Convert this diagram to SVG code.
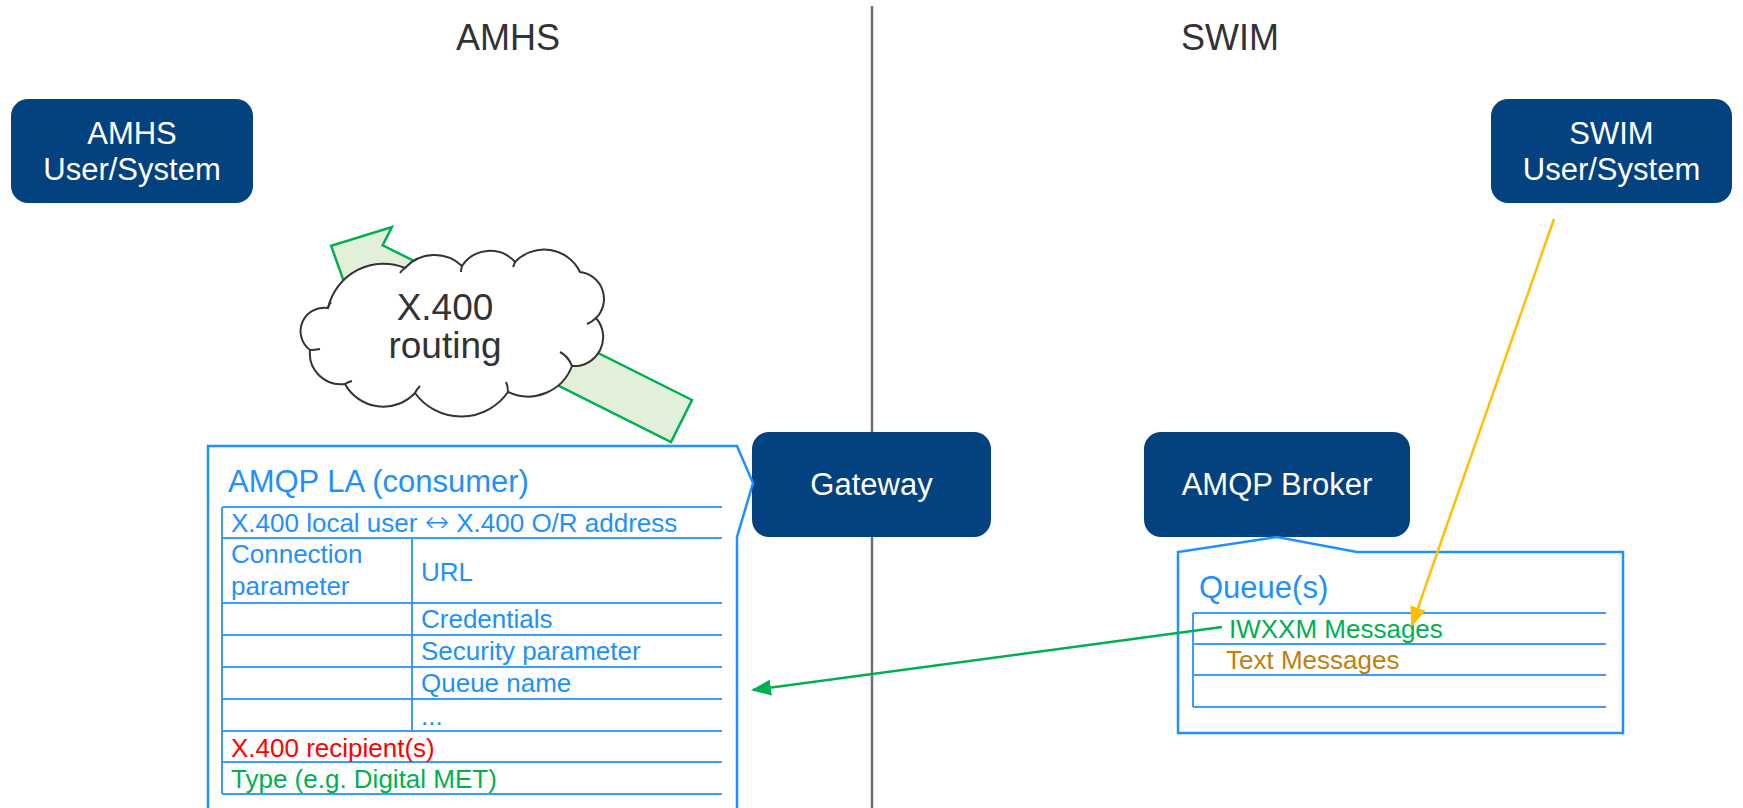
<svg xmlns="http://www.w3.org/2000/svg" width="1743" height="808" viewBox="0 0 1743 808">
<defs>
<style>
.node rect{fill:#03427F;}
.node text{fill:#FFFFFF;font-family:"Liberation Sans",Arial,sans-serif;font-size:31px;text-anchor:middle;}
.title{fill:#333333;font-family:"Liberation Sans",Arial,sans-serif;font-size:36px;text-anchor:middle;}
.blue{fill:#1E90FF;}
.t{font-family:"Liberation Sans",Arial,sans-serif;font-size:26px;}
.big{font-family:"Liberation Sans",Arial,sans-serif;font-size:31px;}
.box{fill:none;stroke:#1E90FF;stroke-width:2.5;}
.grid{fill:none;stroke:#3B9BFF;stroke-width:2;}
</style>
<marker id="ahOrange" markerUnits="userSpaceOnUse" viewBox="0 0 20 16" markerWidth="20" markerHeight="16" refX="18" refY="8" orient="auto">
<path d="M0,0 L20,8 L0,16 z" fill="#FFC000"/>
</marker>
<marker id="ahGreen" markerUnits="userSpaceOnUse" viewBox="0 0 20 16" markerWidth="20" markerHeight="16" refX="18" refY="8" orient="auto">
<path d="M0,0 L20,8 L0,16 z" fill="#00B050"/>
</marker>
</defs>
<rect width="1743" height="808" fill="#FFFFFF"/>

<g id="divider">
<line x1="872" y1="6" x2="872" y2="808" stroke="#707070" stroke-width="2.5"/>
</g>
<g id="titles">
<text class="title" x="508" y="50">AMHS</text>
<text class="title" x="1230" y="50">SWIM</text>
</g>

<g id="routing-arrow">
<polygon points="692,400 382.7,245.3 391.9,227 331.1,245.8 352.5,305.6 361.7,287.3 671,442" fill="#E2F0D9" stroke="#00B050" stroke-width="2.5" stroke-linejoin="miter"/>
</g>

<g id="cloud">
<path d="M328,308 A57,57 0 0 1 405,268 A40,40 0 0 1 462,266 A33.5,33.5 0 0 1 515,262 A40,40 0 0 1 580,272 A27,27 0 0 1 596,318 A29,29 0 0 1 572,366 A47,47 0 0 1 508,392 A57,57 0 0 1 415,393 A43.6,43.6 0 0 1 345,384 A31,31 0 0 1 310,350 A23.5,23.5 0 0 1 328,308 Z" fill="#FFFFFF" stroke="#333333" stroke-width="2"/>
<path d="M328,308 q1,-4 3,-6 M405,268 q-3,2 -5,5 M462,266 q-1,3 -1,6 M515,262 q-1,3 -2,5 M596,318 q-4,4 -9,6 M572,366 q-4,-10 -12,-14 M508,392 q0,-6 -2,-10 M415,393 q2,-4 5,-7 M345,384 q3,-2 7,-3 M310,350 q5,0 10,-1" fill="none" stroke="#333333" stroke-width="2"/>
<text x="445" y="320" fill="#333333" font-family="Liberation Sans, Arial, sans-serif" font-size="37" text-anchor="middle">X.400</text>
<text x="445" y="358" fill="#333333" font-family="Liberation Sans, Arial, sans-serif" font-size="37" text-anchor="middle">routing</text>
</g>

<g id="amhs-user" class="node">
<rect x="11" y="99" width="242" height="104" rx="17"/>
<text x="132" y="144">AMHS</text>
<text x="132" y="180">User/System</text>
</g>
<g id="swim-user" class="node">
<rect x="1491" y="99" width="241" height="104" rx="17"/>
<text x="1611.5" y="144">SWIM</text>
<text x="1611.5" y="180">User/System</text>
</g>
<g id="gateway" class="node">
<rect x="752" y="432" width="239" height="105" rx="17"/>
<text x="871.5" y="495">Gateway</text>
</g>
<g id="amqp-broker" class="node">
<rect x="1144" y="432" width="266" height="105" rx="17"/>
<text x="1277" y="495">AMQP Broker</text>
</g>

<g id="amqp-la">
<path class="box" d="M208,810 V446 H737 L753,483 L737,537 V810"/>
<text class="big blue" x="228" y="492">AMQP LA (consumer)</text>
<path class="grid" d="M222,507 H722 M222,538 H722 M222,603 H722 M222,635 H722 M222,667 H722 M222,699 H722 M222,731 H722 M222,762 H722 M222,794 H722 M222,507 V794 M412,538 V731"/>
<g class="t">
<text class="blue" x="231" y="532">X.400 local user <tspan font-family="DejaVu Sans, sans-serif" font-size="29" font-weight="300">↔</tspan> X.400 O/R address</text>
<text class="blue" x="231" y="563">Connection</text>
<text class="blue" x="231" y="595">parameter</text>
<text class="blue" x="421" y="581">URL</text>
<text class="blue" x="421" y="628">Credentials</text>
<text class="blue" x="421" y="660">Security parameter</text>
<text class="blue" x="421" y="692">Queue name</text>
<text class="blue" x="421" y="725">...</text>
<text x="231" y="757" fill="#FF0000">X.400 recipient(s)</text>
<text x="231" y="788" fill="#00B050">Type (e.g. Digital MET)</text>
</g>
</g>

<g id="queues">
<path class="box" d="M1178,733 V552 L1277,537 L1357,552 H1623 V733 Z"/>
<text class="big blue" x="1199" y="598">Queue(s)</text>
<path class="grid" d="M1193,613 H1606 M1193,644 H1606 M1193,675 H1606 M1193,707 H1606 M1193,613 V707"/>
<text class="t" x="1229" y="638" fill="#00B050">IWXXM Messages</text>
<text class="t" x="1226" y="669" fill="#BF7F10">Text Messages</text>
</g>

<g id="connectors">
<line x1="1554" y1="219" x2="1412" y2="625" stroke="#FFC000" stroke-width="2.5" marker-end="url(#ahOrange)"/>
<line x1="1222" y1="627" x2="753" y2="690" stroke="#00B050" stroke-width="2.5" marker-end="url(#ahGreen)"/>
</g>
</svg>
